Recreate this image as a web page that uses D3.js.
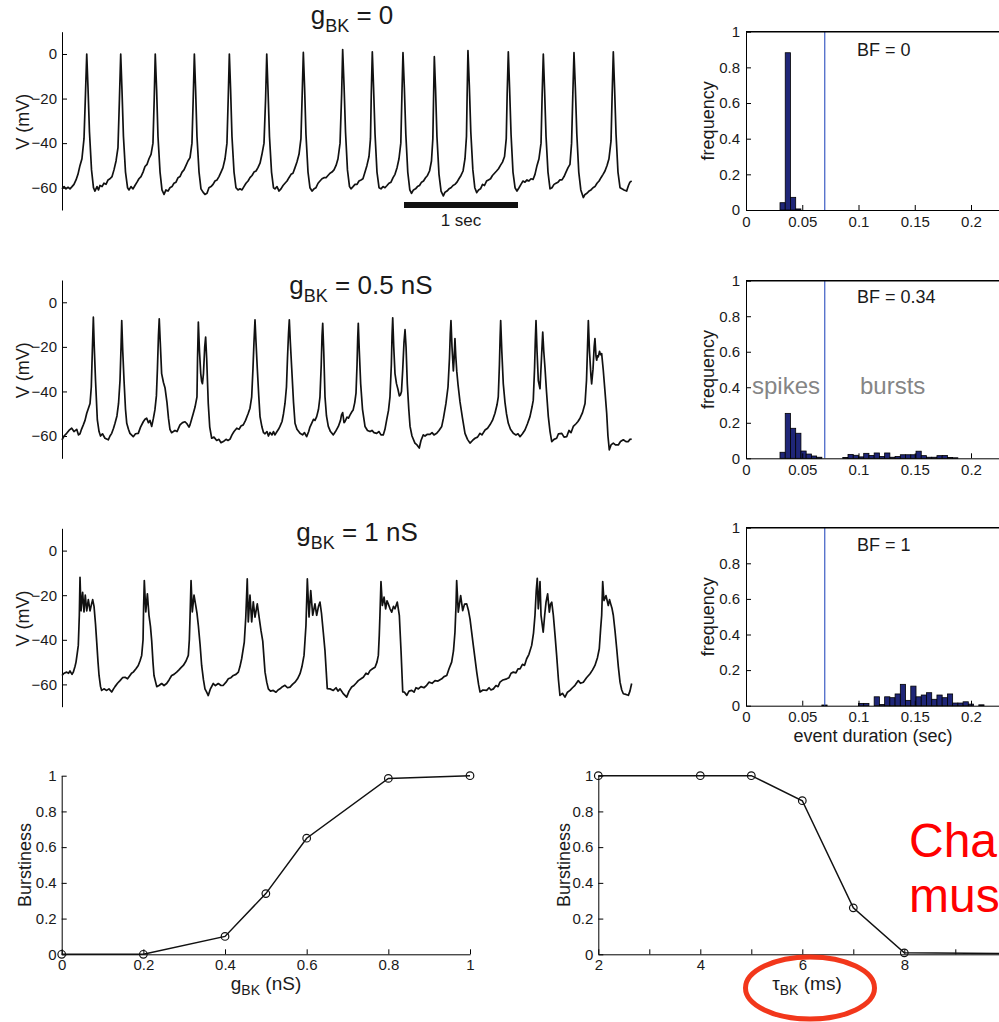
<!DOCTYPE html>
<html>
<head>
<meta charset="utf-8">
<script src="https://cdn.jsdelivr.net/npm/d3@7"></script>
<style>
  body { margin: 0; background: #fff; }
  svg { display: block; }
  text { font-family: "Liberation Sans", Arial, Helvetica, sans-serif; fill: #1a1a1a; }
</style>
</head>
<body>
<svg id="fig" width="999" height="1022"></svg>
<script>
// ---- Membrane voltage traces: [time (s), V (mV)] ----
const voltageG0 = [[0,-60.5],[.018,-59.5],[.035,-60.5],[.053,-59.8],[.070,-60.5],[.088,-59.5],[.105,-58.5],[.123,-56.5],[.140,-54],[.158,-50],[.175,-47],[.193,-38],[.206,-18],[.217,0],[.228,-15],[.241,-35],[.259,-52],[.276,-60],[.289,-61.5],[.307,-59.5],[.320,-61],[.333,-59],[.351,-59.5],[.368,-58],[.386,-58.5],[.404,-56.5],[.421,-56],[.439,-55],[.456,-52],[.474,-48],[.491,-42],[.504,-20],[.515,0],[.526,-16],[.539,-37],[.557,-53],[.575,-60],[.588,-61],[.605,-59.5],[.623,-60.5],[.640,-59],[.658,-57.5],[.675,-56],[.693,-55],[.711,-53],[.728,-50.5],[.746,-49.5],[.763,-47],[.781,-45],[.798,-40],[.809,-20],[.818,0],[.830,-16],[.842,-37],[.860,-53],[.877,-61],[.895,-63],[.912,-61],[.930,-61.5],[.947,-60],[.965,-59.5],[.982,-58],[1.000,-57.5],[1.018,-55.5],[1.035,-55],[1.053,-53],[1.070,-52],[1.088,-50],[1.105,-48],[1.123,-46.5],[1.140,-40],[1.151,-20],[1.161,0],[1.172,-16],[1.184,-37],[1.202,-53],[1.219,-60.5],[1.237,-62],[1.254,-63],[1.272,-62.5],[1.289,-60],[1.307,-59.5],[1.325,-58.5],[1.342,-57],[1.360,-56.5],[1.377,-55],[1.395,-53],[1.412,-51],[1.430,-47],[1.447,-40],[1.458,-20],[1.468,0],[1.479,-16],[1.491,-37],[1.509,-53],[1.526,-60],[1.544,-61],[1.561,-60.5],[1.579,-61],[1.596,-59.5],[1.614,-58],[1.632,-57],[1.649,-55.5],[1.667,-54.5],[1.684,-53],[1.702,-52.5],[1.719,-51],[1.737,-49],[1.754,-45],[1.772,-40],[1.786,-20],[1.796,0],[1.807,-16],[1.820,-37],[1.838,-53],[1.855,-60],[1.868,-60.5],[1.886,-59.5],[1.904,-61.5],[1.921,-60.5],[1.939,-59],[1.956,-58],[1.974,-57],[1.991,-55.5],[2.009,-54],[2.026,-53.5],[2.044,-51],[2.061,-48.5],[2.079,-45],[2.096,-38],[2.107,-18],[2.117,0.7],[2.128,-15],[2.140,-36],[2.158,-53],[2.175,-60],[2.193,-61.5],[2.211,-60.5],[2.228,-60],[2.246,-58],[2.263,-57],[2.281,-56],[2.298,-55.5],[2.316,-55.5],[2.333,-54.5],[2.351,-53.5],[2.368,-53],[2.386,-52],[2.404,-50],[2.421,-47],[2.439,-40],[2.453,-18],[2.462,2],[2.474,-14],[2.487,-35],[2.504,-52],[2.522,-59.5],[2.535,-60.5],[2.553,-59.5],[2.570,-58.5],[2.588,-58.5],[2.605,-57],[2.623,-56.5],[2.640,-56],[2.658,-53],[2.675,-50],[2.693,-46],[2.706,-38],[2.713,-18],[2.722,1],[2.733,-15],[2.746,-36],[2.763,-53],[2.781,-60],[2.798,-60.5],[2.816,-59.5],[2.833,-60],[2.851,-59],[2.868,-58],[2.886,-57.5],[2.904,-55.5],[2.921,-54],[2.939,-51],[2.956,-47],[2.972,-40],[2.982,-18],[2.991,0.6],[3.003,-15],[3.016,-36],[3.033,-53],[3.051,-61],[3.066,-62.5],[3.083,-61],[3.101,-60.5],[3.118,-59.5],[3.136,-59],[3.154,-57.5],[3.171,-57],[3.189,-55.5],[3.206,-54.5],[3.224,-52.5],[3.241,-48],[3.253,-38],[3.260,-18],[3.266,-1.2],[3.277,-16],[3.289,-37],[3.307,-54],[3.325,-61.5],[3.345,-63.7],[3.360,-62],[3.377,-61.5],[3.395,-60.5],[3.412,-60],[3.430,-59],[3.447,-58.5],[3.465,-57.5],[3.482,-56],[3.500,-54.5],[3.518,-52.5],[3.535,-47],[3.548,-37],[3.554,-18],[3.561,1.5],[3.573,-14],[3.586,-35],[3.604,-52],[3.621,-60],[3.638,-62.2],[3.654,-61],[3.671,-60.5],[3.689,-58.5],[3.706,-59],[3.724,-57],[3.741,-56.5],[3.759,-56],[3.776,-54.5],[3.794,-53.5],[3.812,-52.5],[3.829,-51.5],[3.846,-50],[3.864,-48.5],[3.882,-46],[3.897,-38],[3.905,-18],[3.915,1],[3.926,-15],[3.939,-36],[3.956,-53],[3.974,-60],[3.991,-61.5],[4.009,-60],[4.026,-58.5],[4.044,-57],[4.061,-57.5],[4.079,-56.5],[4.096,-57],[4.114,-56],[4.132,-56.3],[4.149,-54],[4.167,-50],[4.184,-47],[4.202,-40],[4.212,-18],[4.222,0],[4.233,-16],[4.246,-37],[4.263,-53],[4.281,-60.5],[4.298,-60],[4.316,-58.5],[4.333,-58],[4.351,-57.5],[4.368,-56.5],[4.386,-56.5],[4.404,-55],[4.421,-53],[4.439,-51],[4.456,-49.5],[4.470,-40],[4.481,-18],[4.491,0.6],[4.503,-15],[4.516,-36],[4.533,-53],[4.551,-61],[4.573,-64.4],[4.588,-63],[4.605,-62.5],[4.623,-61.5],[4.640,-61],[4.658,-60],[4.675,-59.5],[4.693,-58],[4.711,-57],[4.728,-55.5],[4.746,-54],[4.763,-52.5],[4.781,-50],[4.798,-47],[4.816,-39],[4.826,-18],[4.836,1],[4.847,-15],[4.860,-36],[4.877,-53],[4.895,-60],[4.912,-60.5],[4.930,-61],[4.953,-61.5],[4.969,-59],[4.982,-57.5],[4.997,-57]];

const voltageG05 = [[0,-61.7],[.018,-60],[.041,-58.8],[.061,-57.5],[.085,-56.5],[.105,-58],[.129,-57],[.145,-59.5],[.158,-59],[.171,-57],[.187,-55],[.202,-53],[.217,-49.8],[.232,-47.5],[.246,-45.4],[.257,-38],[.266,-22],[.275,-6.7],[.283,-20],[.294,-35],[.310,-52.8],[.325,-58],[.338,-60],[.355,-59],[.377,-61],[.406,-61.7],[.421,-60],[.436,-58.8],[.452,-56.5],[.465,-54.3],[.482,-51],[.496,-45.4],[.509,-35],[.518,-20],[.524,-8.2],[.533,-22],[.544,-35],[.557,-48],[.568,-54.3],[.583,-57],[.596,-58.8],[.625,-60.3],[.645,-59],[.669,-58.8],[.689,-56],[.713,-53.6],[.728,-52.5],[.743,-52],[.758,-54],[.772,-53],[.787,-55.7],[.802,-52],[.815,-48.3],[.828,-42],[.837,-30],[.846,-15],[.853,-7.4],[.862,-18],[.874,-32],[.890,-36],[.904,-38.5],[.921,-45],[.934,-52],[.947,-57],[.961,-58.5],[.977,-58],[.991,-57.5],[1.009,-58],[1.035,-55],[1.057,-54],[1.079,-53.6],[1.096,-54.5],[1.114,-56],[1.123,-55],[1.137,-52.5],[1.152,-49.8],[1.167,-47],[1.184,-42.4],[1.189,-25],[1.196,-8.9],[1.206,-22],[1.217,-32],[1.225,-35.5],[1.232,-36.5],[1.241,-32],[1.252,-20],[1.260,-15.6],[1.269,-25],[1.283,-45.4],[1.296,-56],[1.313,-61],[1.333,-60.5],[1.357,-62],[1.377,-61.5],[1.395,-63],[1.415,-62.5],[1.439,-61.5],[1.456,-62],[1.474,-61.4],[1.491,-59.5],[1.509,-58],[1.533,-56.5],[1.553,-57],[1.570,-55.5],[1.590,-55],[1.610,-53],[1.634,-49.8],[1.649,-47.5],[1.664,-42.4],[1.675,-30],[1.684,-18],[1.693,-7.9],[1.702,-18],[1.713,-29.6],[1.726,-42],[1.737,-51.3],[1.754,-56],[1.768,-58.5],[1.781,-59],[1.798,-58],[1.811,-60],[1.825,-58.4],[1.842,-59.5],[1.855,-58],[1.868,-59.5],[1.886,-58],[1.899,-57],[1.912,-55.7],[1.930,-53.5],[1.943,-50],[1.956,-45.4],[1.969,-38],[1.978,-25],[1.987,-14],[1.994,-7.9],[2.003,-18],[2.015,-29.6],[2.031,-45],[2.044,-54.3],[2.061,-57],[2.088,-58.8],[2.110,-59.5],[2.127,-58.5],[2.146,-60.3],[2.164,-58],[2.175,-56],[2.190,-54.3],[2.206,-52.5],[2.219,-53],[2.234,-51.3],[2.250,-48],[2.263,-42.4],[2.274,-28],[2.281,-15],[2.287,-9.4],[2.296,-22],[2.307,-42.4],[2.320,-51],[2.336,-55.7],[2.355,-58],[2.380,-59.5],[2.399,-58],[2.424,-55.7],[2.443,-53],[2.452,-50.5],[2.462,-49.5],[2.474,-54],[2.482,-53.6],[2.500,-51.5],[2.513,-52],[2.526,-50.6],[2.544,-49],[2.554,-48.3],[2.568,-45],[2.579,-40.8],[2.588,-28],[2.594,-16],[2.599,-9.4],[2.608,-22],[2.620,-36.6],[2.636,-48],[2.658,-55.7],[2.680,-57.5],[2.702,-58],[2.719,-57.5],[2.737,-58.5],[2.760,-58.8],[2.781,-58],[2.798,-59.5],[2.818,-59.5],[2.833,-57],[2.848,-52.8],[2.864,-48.5],[2.877,-42.4],[2.889,-28],[2.895,-15],[2.901,-7],[2.910,-20],[2.921,-32],[2.934,-36.5],[2.947,-39],[2.959,-42],[2.969,-41.5],[2.978,-40],[2.989,-30],[3.000,-18],[3.009,-12.3],[3.018,-20],[3.029,-36.6],[3.042,-48],[3.053,-55.7],[3.070,-60],[3.096,-63.2],[3.114,-64],[3.134,-65.4],[3.149,-62],[3.169,-59.5],[3.184,-60],[3.202,-59.3],[3.228,-59.3],[3.246,-58.5],[3.263,-59.5],[3.287,-58.8],[3.307,-57.5],[3.331,-55.7],[3.346,-52],[3.368,-45.4],[3.386,-38],[3.399,-25],[3.406,-14],[3.412,-8.2],[3.421,-20],[3.433,-30.8],[3.440,-25],[3.447,-16.3],[3.454,-24],[3.463,-31],[3.474,-37],[3.491,-44.6],[3.513,-52],[3.535,-58.8],[3.557,-61.5],[3.579,-63.2],[3.601,-62],[3.623,-61],[3.645,-60.5],[3.667,-58.8],[3.684,-59.5],[3.711,-57.3],[3.733,-56.5],[3.754,-55],[3.776,-53],[3.798,-49.8],[3.816,-46],[3.827,-42.4],[3.837,-28],[3.843,-16],[3.848,-8.2],[3.858,-22],[3.871,-36.6],[3.886,-45],[3.899,-50],[3.915,-54.3],[3.934,-57],[3.959,-58.8],[3.982,-59.5],[4.000,-59],[4.018,-60.3],[4.039,-59],[4.061,-57.3],[4.083,-54.5],[4.105,-51.3],[4.123,-47],[4.134,-43.9],[4.145,-30],[4.152,-17],[4.158,-8.2],[4.167,-22],[4.178,-35.1],[4.193,-38.8],[4.206,-25],[4.217,-13.4],[4.226,-22],[4.237,-29.6],[4.250,-40],[4.266,-51.3],[4.281,-58],[4.296,-62.5],[4.316,-61.5],[4.339,-61],[4.355,-59],[4.384,-58.8],[4.404,-60.5],[4.427,-60.3],[4.447,-57.5],[4.465,-58.5],[4.485,-55.7],[4.509,-54.5],[4.526,-53.5],[4.544,-52],[4.566,-49.5],[4.588,-45.4],[4.601,-35],[4.610,-20],[4.617,-8.2],[4.627,-22],[4.640,-33],[4.646,-36.6],[4.658,-30],[4.668,-20],[4.675,-16.3],[4.684,-24],[4.690,-26],[4.697,-24],[4.704,-24.5],[4.715,-22],[4.724,-23.5],[4.734,-23],[4.748,-30.5],[4.763,-40],[4.778,-49.8],[4.789,-60],[4.801,-66.2],[4.816,-64],[4.836,-63.2],[4.855,-64],[4.880,-64],[4.899,-62.5],[4.924,-61.7],[4.947,-62.5],[4.968,-62.5],[4.982,-61.5],[4.997,-61.4]];

const voltageG1 = [[0,-56],[.018,-55],[.041,-54.5],[.057,-55],[.070,-54],[.088,-55.5],[.099,-54.5],[.114,-52],[.123,-50],[.134,-46],[.143,-42.5],[.152,-29],[.158,-12],[.167,-27],[.175,-22],[.181,-18.7],[.193,-27.5],[.204,-20],[.217,-27],[.231,-22],[.246,-27],[.259,-24],[.269,-22],[.281,-25],[.294,-33],[.304,-40.6],[.316,-50],[.325,-56],[.338,-61],[.348,-62.7],[.368,-62],[.392,-62.7],[.412,-62],[.436,-63.4],[.452,-62],[.465,-61],[.487,-59.5],[.509,-58.3],[.531,-57],[.553,-56.8],[.575,-57.5],[.596,-56],[.610,-55],[.625,-54.5],[.649,-53],[.669,-51.5],[.684,-49.5],[.699,-47],[.711,-40],[.716,-25],[.722,-13.4],[.735,-27.5],[.749,-19.4],[.763,-29],[.776,-34],[.787,-40.6],[.798,-50],[.807,-56],[.831,-61],[.851,-60.5],[.874,-59.6],[.895,-60.5],[.918,-59.6],[.939,-58],[.962,-56],[.982,-55.5],[1.006,-54.5],[1.026,-53.5],[1.044,-52.5],[1.064,-51.5],[1.088,-49.5],[1.108,-47],[1.117,-40],[1.123,-30],[1.132,-13.4],[1.143,-27.5],[1.158,-20],[1.173,-24.6],[1.184,-28],[1.196,-33.6],[1.211,-42],[1.225,-51.5],[1.241,-58],[1.254,-62],[1.269,-63.5],[1.283,-65],[1.302,-62],[1.327,-59.6],[1.346,-60.5],[1.371,-59.6],[1.395,-60.5],[1.415,-60.4],[1.439,-59],[1.459,-57.5],[1.482,-57],[1.503,-56],[1.526,-55.5],[1.547,-54.5],[1.561,-52],[1.576,-48.5],[1.599,-41],[1.612,-30],[1.625,-12.7],[1.634,-32],[1.649,-20],[1.664,-32],[1.678,-23],[1.693,-29.8],[1.713,-23.9],[1.731,-30.6],[1.746,-36],[1.761,-40.6],[1.781,-54.5],[1.796,-59],[1.810,-62],[1.829,-63],[1.853,-62.7],[1.877,-63.5],[1.895,-62.5],[1.912,-62],[1.934,-61],[1.956,-60.4],[1.978,-61.5],[2.000,-61.2],[2.022,-60],[2.044,-59],[2.066,-57.5],[2.088,-55.2],[2.105,-52],[2.123,-47],[2.132,-40],[2.140,-33.6],[2.152,-12.7],[2.167,-29.8],[2.182,-17.9],[2.199,-29],[2.219,-23.9],[2.234,-29],[2.250,-25],[2.263,-23.1],[2.276,-28],[2.292,-36.6],[2.307,-45],[2.327,-61.9],[2.351,-62],[2.380,-62.7],[2.404,-61.5],[2.421,-63],[2.439,-62],[2.465,-64],[2.497,-65.7],[2.518,-63],[2.541,-61.2],[2.561,-60.5],[2.579,-59.5],[2.599,-58.3],[2.623,-57.5],[2.643,-56.8],[2.667,-55],[2.684,-55.5],[2.702,-53.8],[2.724,-53],[2.746,-52.3],[2.763,-50],[2.775,-47],[2.783,-38],[2.789,-29],[2.798,-13.9],[2.810,-24.6],[2.825,-20.9],[2.839,-26.1],[2.851,-22.5],[2.862,-23.9],[2.877,-26],[2.892,-27.6],[2.908,-25],[2.921,-26.1],[2.941,-23.1],[2.959,-29],[2.974,-45],[2.989,-63.4],[3.004,-63.5],[3.024,-64.9],[3.044,-63],[3.068,-62.7],[3.088,-63.5],[3.105,-61.5],[3.126,-62],[3.149,-61],[3.175,-61.5],[3.199,-60.4],[3.219,-59],[3.246,-59.5],[3.272,-58.3],[3.298,-58.5],[3.331,-57.5],[3.351,-56.5],[3.375,-56],[3.395,-53],[3.418,-50],[3.434,-45],[3.447,-36.6],[3.456,-25],[3.462,-13.4],[3.476,-27.6],[3.497,-20.2],[3.515,-26.9],[3.531,-24],[3.550,-23.9],[3.566,-27],[3.579,-30.6],[3.608,-42.5],[3.638,-54.5],[3.654,-60],[3.667,-63.4],[3.693,-62.5],[3.725,-62.7],[3.746,-61.5],[3.763,-62.5],[3.784,-62],[3.807,-60.5],[3.825,-61],[3.842,-59],[3.868,-58],[3.901,-57.5],[3.921,-57],[3.939,-55],[3.959,-54.5],[3.982,-54.8],[4.000,-53],[4.018,-53],[4.039,-51],[4.057,-51.5],[4.076,-48.5],[4.096,-46.5],[4.120,-42.5],[4.136,-37],[4.149,-29],[4.160,-18],[4.169,-12.4],[4.178,-26.1],[4.186,-20],[4.193,-13.9],[4.202,-29],[4.212,-33],[4.221,-36.6],[4.234,-29],[4.246,-23.1],[4.260,-19.4],[4.275,-27.6],[4.285,-24],[4.296,-23.1],[4.310,-29],[4.325,-38],[4.339,-47],[4.355,-58],[4.368,-64.9],[4.390,-64],[4.412,-65.7],[4.434,-63.5],[4.456,-62.7],[4.478,-61.5],[4.500,-60.4],[4.529,-58.3],[4.548,-59.5],[4.573,-59],[4.601,-57],[4.632,-55.2],[4.654,-53.5],[4.675,-51.5],[4.697,-48],[4.713,-44],[4.725,-35],[4.734,-29],[4.743,-13.9],[4.754,-22.4],[4.772,-20.2],[4.792,-24.6],[4.803,-22],[4.813,-23.9],[4.825,-26],[4.836,-29],[4.851,-36],[4.866,-44],[4.880,-52],[4.895,-59],[4.910,-62.5],[4.924,-64.2],[4.947,-64.5],[4.968,-64.9],[4.982,-63],[4.997,-59.6]];

const traceTitles = ["0", "0.5 nS", "1 nS"];
const voltageTicks = [-60, -40, -20, 0];

// ---- Event-duration histograms (frequency per bin, bin k centred at k * binWidth) ----
const histBinWidth = 0.00465;
const histFreqG0 = [0,0,0,0,0,0,0,0.041,0.882,0.071,0.006];
const histFreqG05 = [0,0,0,0,0,0,0,0.034,0.253,0.169,0.141,0.041,0.024,0.013,0.006,0,0,0,0,0.005,0.022,0.017,0.008,0.028,0.016,0.030,0.010,0.030,0.006,0.010,0.020,0.020,0.020,0.040,0.015,0.006,0.006,0.015,0.016,0.005,0.003];
const histFreqG1 = [0,0,0,0,0,0,0,0,0,0,0,0,0,0,0,0.004,0,0,0,0,0,0,0.013,0.013,0,0.050,0.007,0.050,0.045,0.066,0.120,0.030,0.110,0.050,0.060,0.073,0.036,0.060,0.045,0.066,0.015,0.015,0.022,0.009,0,0.005];
const burstThreshold = 0.07;
const burstFractions = ["0", "0.34", "1"];
const histXTicks = [0, 0.05, 0.1, 0.15, 0.2];
const freqTicks = [0, 0.2, 0.4, 0.6, 0.8, 1];

// ---- Burstiness summaries ----
const gbkValues = [0, 0.2, 0.4, 0.5, 0.6, 0.8, 1];
const burstinessVsGbk = [0, 0, 0.1, 0.34, 0.65, 0.985, 1];
const tauValues = [2, 4, 5, 6, 7, 8, 10];
const burstinessVsTau = [1, 1, 1, 0.86, 0.26, 0.008, 0.004];
const gbkTicks = [0, 0.2, 0.4, 0.6, 0.8, 1];
const tauTicks = [2, 3, 4, 5, 6, 7, 8, 9];
const burstTicks = [0, 0.2, 0.4, 0.6, 0.8, 1];

// ---------------------------------------------------------------
const FONT = '"Liberation Sans", Arial, Helvetica, sans-serif';
const INK = "#1a1a1a";
const svg = d3.select("#fig");
const fmt = d3.format("~g");

function styleAxis(g, size) {
  g.attr("font-family", FONT).attr("font-size", size);
  g.selectAll("text").attr("fill", INK);
  g.selectAll("line").attr("stroke", "#000");
  g.select(".domain").attr("stroke", "#000");
}

function subLabel(x, y, parts, size, subSize, shift) {
  const t = svg.append("text").attr("text-anchor", "middle").attr("font-size", size)
    .attr("x", x).attr("y", y);
  t.append("tspan").text(parts[0]);
  t.append("tspan").attr("font-size", subSize).attr("dy", shift).text(parts[1]);
  t.append("tspan").attr("dy", -shift).text(parts[2]);
  return t;
}

// ---- voltage trace rows ----
const traceRows = [
  { data: voltageG0,  top: 31.7, bottom: 210,   titleX: 352, titleY: 24 },
  { data: voltageG05, top: 280,  bottom: 458.3, titleX: 361, titleY: 294 },
  { data: voltageG1,  top: 528.3, bottom: 706.7, titleX: 357, titleY: 541 }
];
const xTime = d3.scaleLinear().domain([0, 5]).range([62, 632]);

traceRows.forEach((row, i) => {
  const y = d3.scaleLinear().domain([-70, 10]).range([row.bottom, row.top]);
  const ax = svg.append("g").attr("transform", "translate(62,0)")
    .call(d3.axisLeft(y).tickValues(voltageTicks).tickSize(-5).tickSizeOuter(0).tickPadding(5));
  styleAxis(ax, 15);

  svg.append("path").datum(row.data)
    .attr("fill", "none").attr("stroke", "#111").attr("stroke-width", 1.7)
    .attr("stroke-linejoin", "round")
    .attr("d", d3.line().x(d => xTime(d[0])).y(d => y(d[1])));

  svg.append("text").attr("transform", `translate(29,${(row.top + row.bottom) / 2 + 1}) rotate(-90)`)
    .attr("text-anchor", "middle").attr("font-size", 18).text("V (mV)");

  subLabel(row.titleX, row.titleY, ["g", "BK", " = " + traceTitles[i]], 26, 18, 8);

  if (i === 0) {
    svg.append("rect").attr("x", xTime(3)).attr("y", 202)
      .attr("width", xTime(4) - xTime(3)).attr("height", 6).attr("fill", "#111");
    svg.append("text").attr("x", (xTime(3) + xTime(4)) / 2).attr("y", 226)
      .attr("text-anchor", "middle").attr("font-size", 17).text("1 sec");
  }
});

// ---- histograms ----
const histRows = [
  { freq: histFreqG0,  top: 31.7,  bottom: 210,   bfY: 56 },
  { freq: histFreqG05, top: 280.7, bottom: 458.3, bfY: 303 },
  { freq: histFreqG1,  top: 527.7, bottom: 705.7, bfY: 551 }
];
const xDur = d3.scaleLinear().domain([0, 0.25]).range([746, 746 + 0.25 * 1125]);

histRows.forEach((row, i) => {
  const y = d3.scaleLinear().domain([0, 1]).range([row.bottom, row.top]);
  const bins = row.freq.map((f, k) => ({ c: k * histBinWidth, f })).filter(d => d.f > 0);

  svg.append("g").selectAll("rect").data(bins).join("rect")
    .attr("x", d => xDur(d.c - histBinWidth / 2))
    .attr("width", xDur(histBinWidth) - xDur(0))
    .attr("y", d => y(d.f))
    .attr("height", d => y(0) - y(d.f))
    .attr("fill", "#1f2678").attr("stroke", "#000").attr("stroke-width", 0.8);

  svg.append("line").attr("x1", xDur(burstThreshold)).attr("x2", xDur(burstThreshold))
    .attr("y1", y(0)).attr("y2", y(1)).attr("stroke", "#3d5cc4").attr("stroke-width", 1.2);

  const ay = svg.append("g").attr("transform", "translate(746,0)")
    .call(d3.axisLeft(y).tickValues(freqTicks).tickFormat(fmt).tickSize(-5).tickSizeOuter(0).tickPadding(6));
  styleAxis(ay, 15);
  const axb = svg.append("g").attr("transform", `translate(0,${row.bottom})`)
    .call(d3.axisBottom(xDur).tickValues(histXTicks).tickFormat(fmt).tickSize(-5).tickSizeOuter(0).tickPadding(6));
  styleAxis(axb, 15);
  svg.append("line").attr("x1", 746).attr("x2", 999).attr("y1", row.top).attr("y2", row.top)
    .attr("stroke", "#000").attr("stroke-width", 1.6);

  svg.append("text").attr("transform", `translate(714,${(row.top + row.bottom) / 2}) rotate(-90)`)
    .attr("text-anchor", "middle").attr("font-size", 18).text("frequency");

  svg.append("text").attr("x", 857).attr("y", row.bfY).attr("font-size", 18)
    .text("BF = " + burstFractions[i]);

  if (i === 1) {
    svg.append("text").attr("x", 752).attr("y", 394).attr("font-size", 24)
      .style("fill", "#858585").text("spikes");
    svg.append("text").attr("x", 860).attr("y", 394).attr("font-size", 24)
      .style("fill", "#858585").text("bursts");
  }
  if (i === 2) {
    svg.append("text").attr("x", 873).attr("y", 742).attr("text-anchor", "middle")
      .attr("font-size", 18).text("event duration (sec)");
  }
});

// ---- burstiness panels ----
function burstPanel(xs, ys, xDomain, xRange, xTickVals, xTickFmt, xLabelParts, xLabelX, yLabelX) {
  const x = d3.scaleLinear().domain(xDomain).range(xRange);
  const y = d3.scaleLinear().domain([0, 1]).range([954.3, 775.7]);
  const pts = xs.map((v, k) => [v, ys[k]]);

  const ay = svg.append("g").attr("transform", `translate(${xRange[0]},0)`)
    .call(d3.axisLeft(y).tickValues(burstTicks).tickFormat(fmt).tickSize(-5).tickSizeOuter(0).tickPadding(5));
  styleAxis(ay, 15);
  const ax = svg.append("g").attr("transform", "translate(0,954.3)")
    .call(d3.axisBottom(x).tickValues(xTickVals).tickFormat(xTickFmt).tickSize(-5).tickSizeOuter(0).tickPadding(5));
  styleAxis(ax, 15);

  svg.append("path").datum(pts).attr("fill", "none").attr("stroke", "#111").attr("stroke-width", 1.5)
    .attr("d", d3.line().x(d => x(d[0])).y(d => y(d[1])));
  svg.append("g").selectAll("circle").data(pts).join("circle")
    .attr("cx", d => x(d[0])).attr("cy", d => y(d[1])).attr("r", 3.8)
    .attr("fill", "none").attr("stroke", "#111").attr("stroke-width", 1.2);

  svg.append("text").attr("transform", `translate(${yLabelX},865) rotate(-90)`)
    .attr("text-anchor", "middle").attr("font-size", 18).text("Burstiness");
  subLabel(xLabelX, 990, xLabelParts, 19, 14, 5);
}

burstPanel(gbkValues, burstinessVsGbk, [0, 1], [61.7, 470], gbkTicks, fmt,
  ["g", "BK", " (nS)"], 266, 31);
burstPanel(tauValues, burstinessVsTau, [2, 10], [598.3, 598.3 + 8 * 51], tauTicks,
  d => (d % 2 === 0 ? String(d) : ""), ["\u03C4", "BK", " (ms)"], 807, 570);

// ---- annotations ----
svg.append("text").attr("x", 909).attr("y", 857).attr("font-size", 48)
  .style("fill", "#ff0000").text("Cha");
svg.append("text").attr("x", 909).attr("y", 912).attr("font-size", 48)
  .style("fill", "#ff0000").text("mus");
svg.append("ellipse").attr("cx", 810).attr("cy", 988).attr("rx", 64.5).attr("ry", 31)
  .attr("fill", "none").attr("stroke", "#f2371b").attr("stroke-width", 5);
</script>
</body>
</html>
